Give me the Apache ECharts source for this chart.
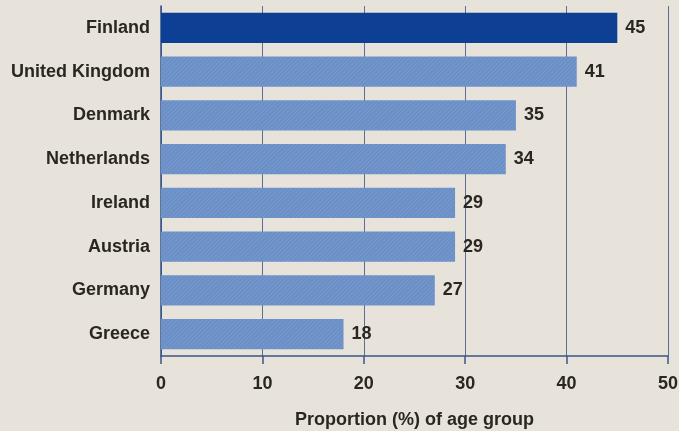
<!DOCTYPE html>
<html>
<head>
<meta charset="utf-8">
<script src="https://cdn.jsdelivr.net/npm/echarts@6/dist/echarts.min.js"></script>
<style>
  html, body { margin: 0; padding: 0; background: #e7e3db; }
  #chart { width: 679px; height: 431px; }
</style>
</head>
<body>
<div id="chart"></div>
<script>
// Proportion (%) of age group, by country
const countries = ['Finland', 'United Kingdom', 'Denmark', 'Netherlands', 'Ireland', 'Austria', 'Germany', 'Greece'];
const proportions = [45, 41, 35, 34, 29, 29, 27, 18];
const highlighted = 'Finland';
const xTicks = [0, 10, 20, 30, 40, 50];

const FONT = '"Liberation Sans Narrow", "Liberation Sans", Arial, sans-serif';
const TEXT = '#2a2722';

const hatch = {
  symbol: 'rect',
  color: 'rgba(255,255,255,0.09)',
  dashArrayX: [1, 0],
  dashArrayY: [1, 2],
  rotation: -Math.PI / 4
};

const chart = echarts.init(document.getElementById('chart'));
chart.setOption({
  backgroundColor: '#e7e3db',
  animation: false,
  grid: { left: 161, right: 11, top: 6, bottom: 75, outerBoundsMode: 'none', containLabel: false },
  xAxis: {
    type: 'value',
    min: xTicks[0],
    max: xTicks[xTicks.length - 1],
    interval: 10,
    name: 'Proportion (%) of age group',
    nameLocation: 'middle',
    nameGap: 55,
    nameTextStyle: { fontFamily: FONT, fontSize: 18, fontWeight: 'bold', color: TEXT },
    axisLine: { show: true, lineStyle: { color: '#3b5687', width: 1.5 } },
    axisTick: { show: true, length: 8, lineStyle: { color: '#3b5687', width: 1.5 } },
    axisLabel: { margin: 19, fontFamily: FONT, fontSize: 18, fontWeight: 'bold', color: TEXT },
    splitLine: { show: true, lineStyle: { color: '#5d6f92', width: 1 } }
  },
  yAxis: {
    type: 'category',
    data: countries,
    inverse: true,
    axisLine: { show: true, lineStyle: { color: '#2f4f86', width: 1.5 } },
    axisTick: { show: false },
    axisLabel: { margin: 11, fontFamily: FONT, fontSize: 18, fontWeight: 'bold', color: TEXT }
  },
  series: [{
    type: 'bar',
    barCategoryGap: '31%',
    data: proportions.map((v, i) => ({
      value: v,
      itemStyle: countries[i] === highlighted
        ? { color: '#0d3f94' }
        : { color: '#6a8fc6', decal: hatch }
    })),
    label: {
      show: true,
      position: 'right',
      distance: 8,
      fontFamily: FONT,
      fontSize: 18,
      fontWeight: 'bold',
      color: TEXT
    }
  }]
});
</script>
</body>
</html>
